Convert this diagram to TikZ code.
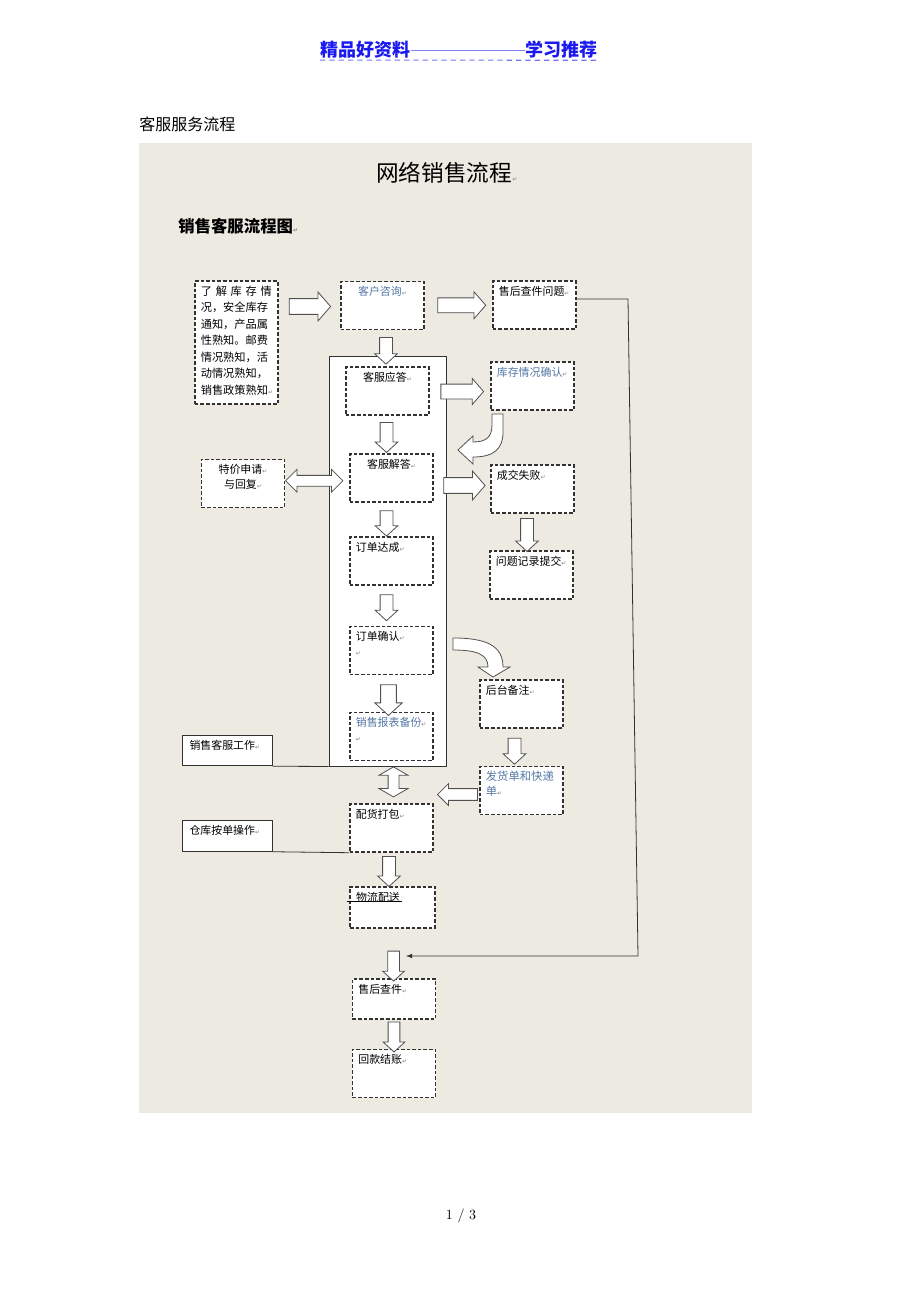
\documentclass[tikz,border=0pt]{standalone}
\usepackage{fontspec}
\newfontfamily\cjk{Noto Sans CJK SC}
\newfontfamily\dejavu{DejaVu Sans}
\usetikzlibrary{shapes.arrows,calc}
\definecolor{panel}{RGB}{236,234,225}
\definecolor{hdrblue}{RGB}{25,25,240}
\definecolor{softblue}{RGB}{84,120,166}
\definecolor{edge}{RGB}{50,50,50}
\definecolor{arrowedge}{RGB}{80,80,80}
\newcommand\retmk{{\dejavu\fontsize{4.5}{5}\selectfont\color{gray}↵}}

\begin{document}
\begin{tikzpicture}[
  x=0.75pt,y=-0.75pt,
  txt/.style={font=\cjk\fontsize{8.2}{11}\selectfont},
  box/.style={txt,draw=edge,dash pattern=on 2.7pt off 1.5pt,line width=1.05pt,fill=white,
    text width=53.5pt,text height=7pt,text depth=22pt,inner xsep=4.5pt,inner ysep=3.5pt,align=left},
  cbox/.style={box,align=center},
  plain/.style={txt,draw=edge,line width=0.6pt,fill=white,
    text width=57pt,text height=7pt,text depth=9pt,inner xsep=5pt,inner ysep=3.5pt,align=left},
  line/.style={draw=edge,line width=0.6pt},
  rarrow/.style={single arrow,draw=arrowedge,fill=white,line width=0.6pt,inner sep=0pt,
    inner ysep=5.6pt,minimum height=31pt,single arrow head extend=4.9pt,single arrow tip angle=98},
  darrow/.style={rarrow,rotate=-90,minimum height=21pt,inner ysep=4.5pt,
    single arrow head extend=3.75pt,single arrow tip angle=95},
  larrow/.style={rarrow,rotate=180,minimum height=30pt,inner ysep=4.1pt,
    single arrow head extend=3.75pt,single arrow tip angle=90},
  dblarrow/.style={double arrow,draw=arrowedge,fill=white,line width=0.6pt,inner sep=0pt,
    inner ysep=3.75pt,minimum height=43pt,double arrow head extend=4.5pt},
  bentarrow/.style={draw=arrowedge,fill=white,line width=0.6pt}]
  \useasboundingbox (0,0) rectangle (920,1302);
  \fill[white] (0,0) rectangle (920,1302);
  \fill[panel] (139,143) rectangle (752,1113);
  % page header and titles
  \node[font=\cjk\bfseries\fontsize{13.5}{16}\selectfont,text=hdrblue,inner sep=0pt,anchor=west] (hdl) at (320,50) {精品好资料};
  \node[font=\cjk\bfseries\fontsize{13.5}{16}\selectfont,text=hdrblue,inner sep=0pt,anchor=east] (hdr) at (598,50) {学习推荐};
  \draw[hdrblue!55,line width=0.5pt] (hdl.east) -- (hdr.west);
  \draw[hdrblue!60,line width=0.8pt,dash pattern=on 4pt off 3pt] ([yshift=-2.5pt]hdl.base west) -- ([yshift=-2.5pt]hdr.base east);
  \node[font=\cjk\fontsize{12}{14}\selectfont,inner sep=0pt,anchor=west] (doc) at (139,124) {客服服务流程};
  \node[font=\cjk\fontsize{17}{20}\selectfont,inner sep=0pt,anchor=west] (title) at (376,173) {网络销售流程\retmk};
  \node[font=\cjk\bfseries\fontsize{12.3}{14}\selectfont,inner sep=0pt,anchor=west] (sub) at (178,226) {销售客服流程图\retmk};
  \node[font=\fontsize{10.5}{12}\selectfont,inner sep=0pt] (pg) at (461,1216) {1 / 3};
  % sales desk frame
  \node[draw=edge,line width=0.7pt,fill=white,minimum width=87.75pt,minimum height=307.5pt,inner sep=0pt] (desk) at (387.5,561) {};
  % boxes
  \node[box,font=\cjk\fontsize{8.4}{12.4}\selectfont,text depth=78pt] (info) at (236.5,342.5)
    {\makebox[50.4pt][s]{了 解 库 存 情}\\况，安全库存\\通知，产品属\\性熟知。邮费\\情况熟知，活\\动情况熟知，\\销售政策熟知\retmk};
  \node[cbox,text=softblue] (ask) at (382.5,305.5) {客户咨询\retmk};
  \node[box] (after) at (534.5,305) {售后查件问题\retmk};
  \node[cbox] (reply) at (387.5,391) {客服应答\retmk};
  \node[box,text=softblue] (stock) at (532.5,386) {库存情况确认\retmk};
  \node[cbox,font=\cjk\fontsize{8.2}{11.25}\selectfont] (special) at (243,483.5) {特价申请\retmk\\与回复\retmk};
  \node[cbox] (answer) at (391.5,478) {客服解答\retmk};
  \node[box] (fail) at (532.5,489) {成交失败\retmk};
  \node[box] (record) at (531.5,575) {问题记录提交\retmk};
  \node[box] (deal) at (391.5,561) {订单达成\retmk};
  \node[box] (confirm) at (391.5,650.5) {订单确认\retmk\\\retmk};
  \node[box] (note) at (521.5,704) {后台备注\retmk};
  \node[box,text=softblue] (report) at (391.5,736.5) {销售报表备份\retmk\\\retmk};
  \node[box,text=softblue,font=\cjk\fontsize{8.5}{11.5}\selectfont] (waybill) at (521.5,790.5) {发货单和快递\\单\retmk};
  \node[box] (pack) at (391.5,828) {配货打包\retmk};
  \node[box,text depth=16.75pt,text width=54.5pt] (ship) at (392.5,907.5) {物流配送};
  \node[box,text depth=16pt] (check) at (394,999) {售后查件\retmk};
  \node[box] (pay) at (394,1073.5) {回款结账\retmk};
  \node[plain] (salework) at (227.5,750.5) {销售客服工作\retmk};
  \node[plain] (storework) at (227.5,836) {仓库按单操作\retmk};
  \draw[line] (salework.south east) -- (desk.south west);
  \draw[line] (storework.south east) -- (pack.south west);
  \draw[line width=0.7pt] ($(ship.north west)+(-2,15)$) -- ++(55,0);
  % block arrows
  \node[rarrow] (a1) at ($(info.east|-ask.west)!.5!(ask.west)+(-3,1)$) {};
  \node[rarrow,minimum height=36pt,inner ysep=5.25pt,single arrow head extend=4.5pt] (a2) at ($(ask.east)!.5!(after.west)$) {};
  \node[darrow,minimum height=20pt] (a3) at ($(ask.south)!.5!(desk.north)+(1,5)$) {};
  \node[rarrow,minimum height=32pt,inner ysep=5.25pt,single arrow head extend=4.25pt] (a4) at ($(reply.east)!.5!(stock.west)+(-1,3)$) {};
  \draw[bentarrow] (492,414) -- (492,425) .. controls (492,438) and (485,442) .. (473,442) -- (473,436)
    -- (458,450) -- (473,464) -- (473,457) .. controls (495,457) and (503,448) .. (503,432) -- (503,414) -- cycle;
  \node[darrow,minimum height=22.5pt] (a5) at ($(reply.south)!.5!(answer.north)+(-3,0)$) {};
  \node[dblarrow] (d1) at ($(special.east)!.5!(answer.west)+(-3,0)$) {};
  \node[rarrow] (a6) at ($(answer.east)!.5!(fail.west)+(-1,2)$) {};
  \node[darrow,minimum height=24.75pt] (a7) at ($(fail.south)!.5!(record.north)+(-5,0)$) {};
  \node[darrow,minimum height=19pt] (a8) at ($(answer.south)!.5!(deal.north)+(-5,1)$) {};
  \node[darrow,minimum height=19.5pt] (a9) at ($(deal.south)!.5!(confirm.north)+(-5,-1)$) {};
  \draw[bentarrow] (453,638) .. controls (485,638) and (503,645) .. (503,667) -- (510,667) -- (493,677)
    -- (478,667) -- (488,667) .. controls (488,655) and (478,650) .. (453,650) -- cycle;
  \node[darrow,minimum height=23pt,inner ysep=5.6pt,single arrow head extend=4.4pt] (a10) at ($(confirm.south)!.5!(report.north)+(-3,3)$) {};
  \node[darrow,minimum height=19.5pt] (a11) at ($(note.south)!.5!(waybill.north)+(-7,1)$) {};
  \node[dblarrow,rotate=90,minimum height=22.5pt,double arrow head extend=6.75pt,double arrow tip angle=120] (d2) at ($(desk.south)!.5!(pack.north)+(4,-3)$) {};
  \node[larrow] (a12) at ($(waybill.west)!.5!(pack.east|-waybill.west)+(4,4)$) {};
  \node[darrow,minimum height=22.5pt] (a13) at ($(pack.south)!.5!(ship.north)+(-3,-1)$) {};
  \node[darrow,minimum height=22.5pt,inner ysep=4.1pt] (a14) at ($(ship.south)!.7!(check.north)$) {};
  \node[darrow,minimum height=22.5pt,inner ysep=4.1pt] (a15) at ($(check.south)!.5!(pay.north)$) {};
  % after-sales return line
  \coordinate (turn1) at (628,299);
  \coordinate (turn2) at (638,956);
  \coordinate (back) at (406,956);
  \draw[line,-latex] (after.east|-turn1) -- (turn1) -- (turn2) -- (back);
\end{tikzpicture}
\end{document}
